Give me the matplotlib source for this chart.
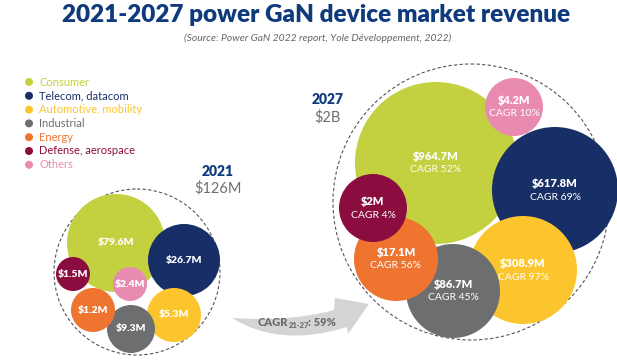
import numpy as np
import matplotlib.pyplot as plt
from matplotlib.patches import Circle, PathPatch
from matplotlib.path import Path

# market segments, revenue in $M
segments = ['Consumer', 'Telecom, datacom', 'Automotive, mobility', 'Industrial',
            'Energy', 'Defense, aerospace', 'Others']
rev_2021 = [79.6, 26.7, 5.3, 9.3, 1.2, 1.5, 2.4]
rev_2027 = [964.7, 617.8, 308.9, 86.7, 17.1, 2.0, 4.2]
cagr = [52, 69, 97, 45, 56, 4, 10]
totals = ['$126M', '$2B']
years = ['2021', '2027']
cagr_total = 59

colors = ['#c3d141', '#172f66', '#fcc42d', '#6d6e70', '#ee7430', '#8b0d3f', '#e98bb1']
navy = '#0f3b7d'
gray = '#6d6e70'

# packed-bubble layout in pixel units (x, y, r)
layout_2021 = [(116, 243, 49), (184, 260, 36), (174, 315, 27), (131, 329, 24),
               (93, 310, 22), (73, 274, 17), (130, 284, 17)]
layout_2027 = [(436, 163, 81), (555, 190, 63), (523, 270, 54), (453, 291, 47),
               (396, 259, 42), (373, 208, 34), (514, 107, 29)]
outer = [(137, 272, 83), (471, 202, 138)]

plt.rcParams['font.family'] = ['Lato', 'DejaVu Sans']

fig = plt.figure(figsize=(6.17, 3.64), dpi=100)
ax = fig.add_axes([0, 0, 1, 1])
ax.set_xlim(0, 617)
ax.set_ylim(364, 0)
ax.axis('off')

ax.text(316, 15, '2021-2027 power GaN device market revenue', ha='center', va='center',
        fontsize=17.5, fontweight='heavy', color=navy)
ax.text(318, 38, '(Source: Power GaN 2022 report, Yole Développement, 2022)', ha='center',
        va='center', fontsize=7.5, style='italic', color='#666666')

# legend
for i, s in enumerate(segments):
    y = 82 + i * 13.8
    ax.add_patch(Circle((29, y), 4, color=colors[i], lw=0))
    ax.text(39, y, s, ha='left', va='center', fontsize=8, color=colors[i])

# outer dashed circles
for cx, cy, r in outer:
    ax.add_patch(Circle((cx, cy), r, fill=False, ls=(0, (3, 2)), lw=0.8, color='#555555'))

# 2021 bubbles
for i in range(len(segments)):
    cx, cy, r = layout_2021[i]
    ax.add_patch(Circle((cx, cy), r, color=colors[i], lw=0))
    ax.text(cx, cy, f'${rev_2021[i]:g}M', ha='center', va='center', fontsize=7.5,
            fontweight='heavy', color='white')

# 2027 bubbles
for i in range(len(segments)):
    cx, cy, r = layout_2027[i]
    ax.add_patch(Circle((cx, cy), r, color=colors[i], lw=0))
    ax.text(cx, cy - 6.5, f'${rev_2027[i]:g}M', ha='center', va='center', fontsize=8,
            fontweight='heavy', color='white')
    ax.text(cx, cy + 7, f'CAGR {cagr[i]}%', ha='center', va='center', fontsize=7.5,
            color='white')

# year / total labels
ax.text(218, 172, years[0], ha='center', va='center', fontsize=10, fontweight='heavy', color=navy)
ax.text(218, 188, totals[0], ha='center', va='center', fontsize=10.5, color=gray)
ax.text(328, 100, years[1], ha='center', va='center', fontsize=10, fontweight='heavy', color=navy)
ax.text(328, 117, totals[1], ha='center', va='center', fontsize=10.5, color=gray)

# curved growth arrow
verts = [(232, 318), (290, 322), (334, 310),   # upper edge
         (335, 298), (369, 304), (348, 334),   # arrowhead
         (347, 327), (280, 348), (232, 318)]   # lower edge back to tail
codes = [Path.MOVETO, Path.CURVE3, Path.CURVE3,
         Path.LINETO, Path.LINETO, Path.LINETO,
         Path.LINETO, Path.CURVE3, Path.CURVE3]
ax.add_patch(PathPatch(Path(verts, codes), facecolor='#d4d4d4', edgecolor='none'))

ax.text(288, 323, 'CAGR', ha='right', va='center', fontsize=8, fontweight='heavy', color=gray)
ax.text(288.5, 326, '21-27', ha='left', va='center', fontsize=5.5, fontweight='heavy', color=gray)
ax.text(307.5, 323, f': {cagr_total}%', ha='left', va='center', fontsize=8, fontweight='heavy', color=gray)

fig.savefig('out.png', dpi=100)
